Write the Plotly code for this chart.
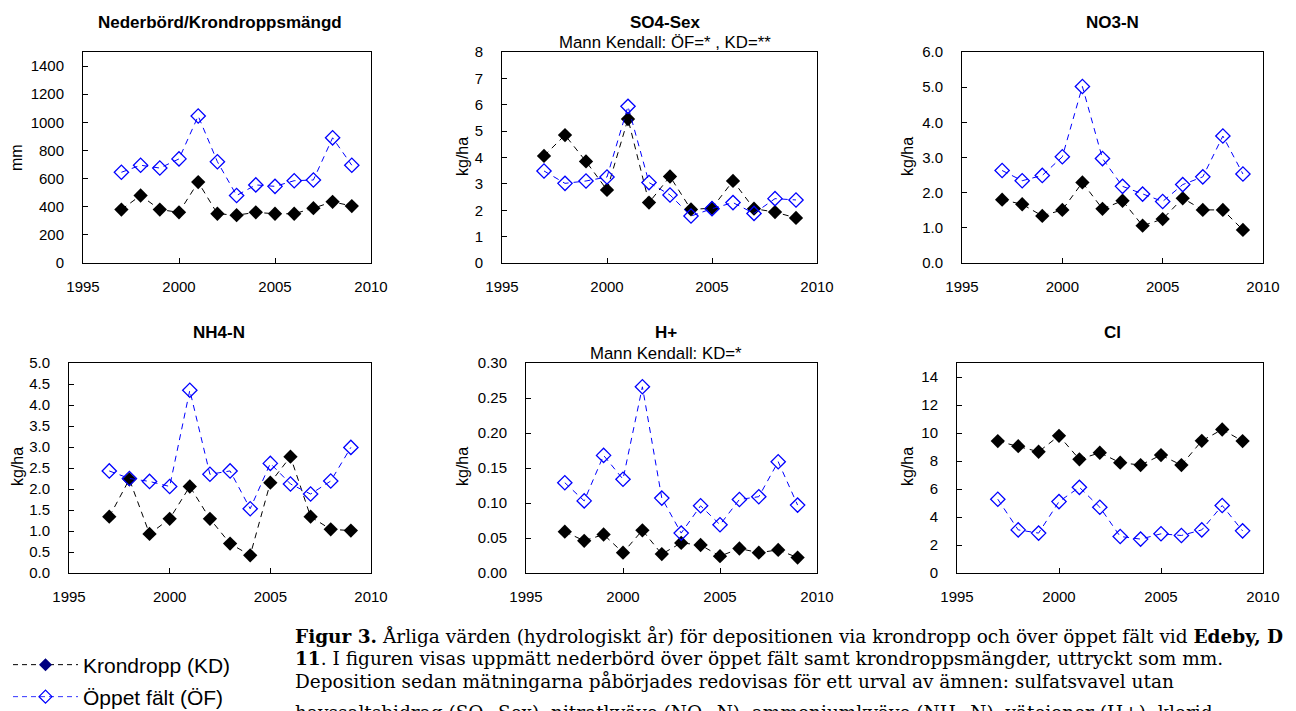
import plotly.graph_objects as go

W, H = 1296, 711

years = [1997, 1998, 1999, 2000, 2001, 2002, 2003, 2004, 2005, 2006, 2007, 2008, 2009]

precip_kd = [380, 480, 380, 360, 575, 350, 340, 360, 350, 350, 390, 435, 405]
precip_of = [645, 695, 675, 740, 1045, 720, 480, 555, 545, 585, 590, 890, 695]
so4_kd = [4.06, 4.85, 3.85, 2.77, 5.46, 2.29, 3.28, 2.03, 2.08, 3.11, 2.06, 1.93, 1.71]
so4_of = [3.49, 3.02, 3.11, 3.26, 5.94, 3.05, 2.58, 1.78, 2.06, 2.29, 1.88, 2.44, 2.39]
no3_kd = [1.80, 1.67, 1.34, 1.51, 2.29, 1.54, 1.77, 1.06, 1.25, 1.84, 1.51, 1.51, 0.94]
no3_of = [2.63, 2.34, 2.49, 3.02, 5.02, 2.97, 2.18, 1.96, 1.75, 2.23, 2.45, 3.61, 2.53]
nh4_kd = [1.34, 2.23, 0.93, 1.29, 2.06, 1.29, 0.70, 0.42, 2.15, 2.77, 1.34, 1.04, 1.01]
nh4_of = [2.43, 2.25, 2.18, 2.06, 4.35, 2.35, 2.43, 1.53, 2.61, 2.12, 1.88, 2.19, 2.99]
h_kd = [0.059, 0.046, 0.055, 0.029, 0.061, 0.027, 0.043, 0.040, 0.024, 0.035, 0.029, 0.033, 0.022]
h_of = [0.129, 0.103, 0.168, 0.134, 0.266, 0.107, 0.057, 0.096, 0.069, 0.105, 0.109, 0.159, 0.097]
cl_kd = [9.42, 9.06, 8.66, 9.80, 8.12, 8.59, 7.88, 7.71, 8.42, 7.71, 9.44, 10.25, 9.42]
cl_of = [5.27, 3.08, 2.85, 5.10, 6.12, 4.70, 2.61, 2.42, 2.80, 2.68, 3.08, 4.82, 3.01]

titles = ["Nederbörd/Krondroppsmängd", "SO4-Sex", "NO3-N", "NH4-N", "H+", "Cl"]
subtitles = ["", "Mann Kendall: ÖF=* , KD=**", "", "", "Mann Kendall: KD=*", ""]
ylabels = ["mm", "kg/ha", "kg/ha", "kg/ha", "kg/ha", "kg/ha"]
yranges = [[0, 1500], [0, 8], [0, 6], [0, 5], [0, 0.30], [0, 15]]
ydticks = [200, 1, 1, 0.5, 0.05, 2]
yformats = ["d", "d", ".1f", ".1f", ".2f", "d"]
xticks = [1995, 2000, 2005, 2010]

series_kd = [precip_kd, so4_kd, no3_kd, nh4_kd, h_kd, cl_kd]
series_of = [precip_of, so4_of, no3_of, nh4_of, h_of, cl_of]

legend_names = ["Krondropp (KD)", "Öppet fält (ÖF)"]

caption_lines = [
    "<b>Figur 3.</b> Årliga värden (hydrologiskt år) för depositionen via krondropp och över öppet fält vid <b>Edeby, D</b>",
    "<b>11</b>. I figuren visas uppmätt nederbörd över öppet fält samt krondroppsmängder, uttryckt som mm.",
    "Deposition sedan mätningarna påbörjades redovisas för ett urval av ämnen: sulfatsvavel utan",
    "havssaltsbidrag (SO<sub>4</sub>-Sex), nitratkväve (NO<sub>3</sub>-N), ammoniumkväve (NH<sub>4</sub>-N), vätejoner (H+), klorid",
]

# ---- layout geometry (pixels, as seen in the final picture) ----
boxes = [  # x0, x1, y0(top), y1(bottom)
    (83, 371, 52, 263),
    (502, 817, 52, 263),
    (962, 1263, 52, 263),
    (69, 371, 363, 573),
    (526, 817, 363, 573),
    (957, 1263, 363, 573),
]
title_pos = [(220, 22), (665, 22), (1112, 22), (219, 332), (666, 332), (1112, 332)]
sub_pos = [None, (665, 43), None, None, (666, 353), None]
ylab_pos = [(17, 158), (462, 157), (907, 157), (17, 467), (462, 467), (907, 467)]

SANS = "Liberation Sans, Arial, sans-serif"
SERIF = "DejaVu Serif, serif"
OFF = 8  # page body margin

def px(x):
    return (x - OFF) / W

def py(y):
    return 1 - (y - OFF) / H

fig = go.Figure()
layout = dict(
    template="none",
    width=W, height=H,
    margin=dict(l=0, r=0, t=0, b=0, pad=0, autoexpand=False),
    paper_bgcolor="white", plot_bgcolor="white",
    font=dict(family=SANS, color="black"),
    annotations=[],
)

for i in range(6):
    n = "" if i == 0 else str(i + 1)
    x0, x1, y0, y1 = boxes[i]
    layout["xaxis" + n] = dict(
        domain=[px(x0), px(x1)], anchor="y" + n,
        range=[1995, 2010], tickvals=xticks, automargin=False,
        showgrid=False, zeroline=False,
        showline=True, mirror=True, linecolor="black", linewidth=1,
        ticks="inside", ticklen=5, tickcolor="black",
        tickfont=dict(size=15, family=SANS, color="black"),
        ticklabelstandoff=10,
    )
    layout["yaxis" + n] = dict(
        domain=[py(y1), py(y0)], anchor="x" + n,
        range=yranges[i], dtick=ydticks[i], tick0=0, tickformat=yformats[i],
        automargin=False,
        showgrid=False, zeroline=False,
        showline=True, mirror=True, linecolor="black", linewidth=1,
        ticks="inside", ticklen=5, tickcolor="black",
        tickfont=dict(size=15, family=SANS, color="black"),
        ticklabelstandoff=15,
    )
    fig.add_trace(go.Scatter(
        x=years, y=series_kd[i], xaxis="x" + n, yaxis="y" + n,
        mode="lines+markers", showlegend=False, name=legend_names[0],
        line=dict(color="black", width=1, dash="6px,5px"),
        marker=dict(symbol="diamond", size=11, color="black"),
        cliponaxis=False,
    ))
    fig.add_trace(go.Scatter(
        x=years, y=series_of[i], xaxis="x" + n, yaxis="y" + n,
        mode="lines+markers", showlegend=False, name=legend_names[1],
        line=dict(color="#0000FF", width=1, dash="6px,5px"),
        marker=dict(symbol="diamond-open", size=11, color="#0000FF",
                    line=dict(width=1.3, color="#0000FF")),
        cliponaxis=False,
    ))
    tx, ty = title_pos[i]
    layout["annotations"].append(dict(
        text="<b>" + titles[i] + "</b>", x=px(tx), y=py(ty), xref="paper", yref="paper",
        xanchor="center", yanchor="middle", showarrow=False,
        font=dict(size=17, family=SANS, color="black"),
    ))
    if sub_pos[i]:
        sx, sy = sub_pos[i]
        layout["annotations"].append(dict(
            text=subtitles[i], x=px(sx), y=py(sy), xref="paper", yref="paper",
            xanchor="center", yanchor="middle", showarrow=False,
            font=dict(size=16.8, family=SANS, color="black"),
        ))
    lx, ly = ylab_pos[i]
    layout["annotations"].append(dict(
        text=ylabels[i], x=px(lx), y=py(ly), xref="paper", yref="paper",
        xanchor="center", yanchor="middle", showarrow=False, textangle=-90,
        font=dict(size=16, family=SANS, color="black"),
    ))

# legend entries (two separate legends for exact placement)
fig.add_trace(go.Scatter(
    x=[None], y=[None], mode="lines+markers", name=legend_names[0], legend="legend",
    line=dict(color="black", width=1, dash="5px,4px"),
    marker=dict(symbol="diamond", size=10, color="#000080"),
))
fig.add_trace(go.Scatter(
    x=[None], y=[None], mode="lines+markers", name=legend_names[1], legend="legend2",
    line=dict(color="#3333FF", width=1, dash="5px,4px"),
    marker=dict(symbol="diamond-open", size=10, color="#0000FF",
                line=dict(width=1.3, color="#0000FF")),
))
leg_common = dict(xanchor="left", yanchor="middle", itemwidth=65,
                  bgcolor="rgba(0,0,0,0)", borderwidth=0,
                  font=dict(size=21, family=SANS, color="black"))
layout["legend"] = dict(x=0, y=py(665), **leg_common)
layout["legend2"] = dict(x=0, y=py(697), **leg_common)

cap_y = [636, 658, 681, 714]
for line, cy in zip(caption_lines, cap_y):
    layout["annotations"].append(dict(
        text=line, x=px(293), y=py(cy), xref="paper", yref="paper",
        xanchor="left", yanchor="middle", showarrow=False, align="left",
        font=dict(size=18.5, family=SERIF, color="black"),
    ))

fig.update_layout(**layout)
fig.write_html("out.html")
